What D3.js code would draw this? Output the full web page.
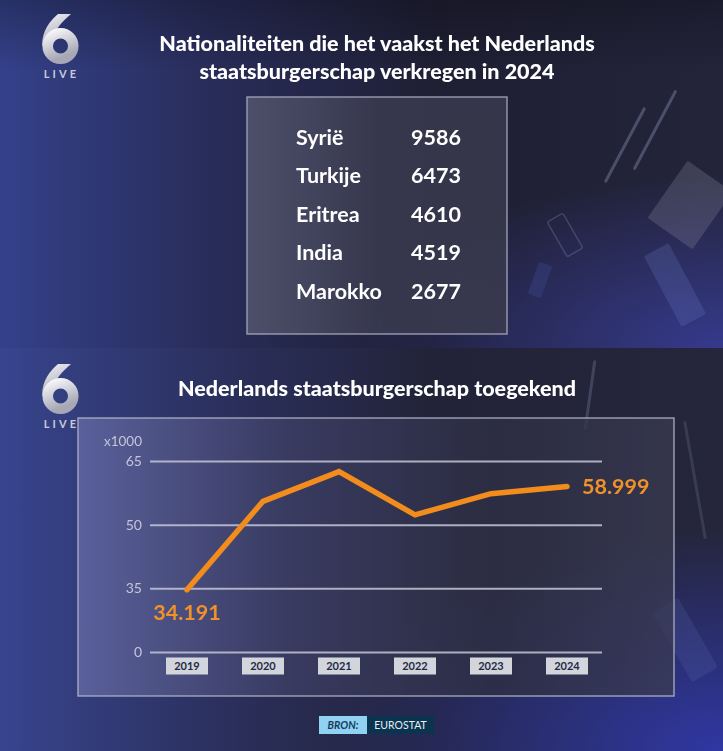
<!DOCTYPE html>
<html><head><meta charset="utf-8">
<script src="https://cdn.jsdelivr.net/npm/d3@7"></script>
<style>
html,body{margin:0;padding:0;background:#1f2035;}
svg{display:block;}
text{font-family:Lato,"Open Sans",sans-serif;}
</style></head>
<body>
<script>
// ---------- DATA ----------
const title1 = ["Nationaliteiten die het vaakst het Nederlands", "staatsburgerschap verkregen in 2024"];
const countries = ["Syrië", "Turkije", "Eritrea", "India", "Marokko"];
const countryValues = [9586, 6473, 4610, 4519, 2677];
const title2 = "Nederlands staatsburgerschap toegekend";
const years = ["2019", "2020", "2021", "2022", "2023", "2024"];
const granted = [34.191, 55.5, 62.5, 52.3, 57.3, 58.999]; // x1000
const yTicks = [0, 35, 50, 65];
const yUnit = "x1000";
const sourceLabel = "BRON:";
const sourceName = "EUROSTAT";

// ---------- SETUP ----------
const W = 723, H = 751;
const svg = d3.select("body").append("svg").attr("width", W).attr("height", H);
const defs = svg.append("defs");

function linGrad(id, stops, x2, y2) {
  const g = defs.append("linearGradient").attr("id", id)
    .attr("x1", 0).attr("y1", 0).attr("x2", x2).attr("y2", y2);
  stops.forEach(s => g.append("stop").attr("offset", s[0]).attr("stop-color", s[1]).attr("stop-opacity", s[2] == null ? 1 : s[2]));
}
function radGrad(id, cx, cy, r, stops) {
  const g = defs.append("radialGradient").attr("id", id).attr("cx", cx).attr("cy", cy).attr("r", r);
  stops.forEach(s => g.append("stop").attr("offset", s[0]).attr("stop-color", s[1]).attr("stop-opacity", s[2]));
}
linGrad("bgTop", [[0, "#34418a"], [0.3, "#282c58"], [0.6, "#1f1f34"], [1, "#23243a"]], 1, 0);
linGrad("bgBot", [[0, "#38458e"], [0.3, "#2b305e"], [0.6, "#222338"], [1, "#25263c"]], 1, 0);
radGrad("glowTop", 1.0, 1.0, 0.5, [[0, "#3a3fa0", 0.8], [1, "#3a3fa0", 0]]);
radGrad("glowBot", 1.0, 1.0, 0.55, [[0, "#3038a8", 0.95], [1, "#3038a8", 0]]);
linGrad("greyTop", [[0, "#000", 0.25], [1, "#000", 0]], 0, 1);
linGrad("panelTop", [[0, "#5a5c72", 0.75], [0.5, "#3c3d52", 0.8], [1, "#3a3a4e", 0.85]], 1, 0);
linGrad("panelBot", [[0, "#6a6fa8", 0.7], [0.35, "#3e4066", 0.75], [0.7, "#2e2f44", 0.8], [1, "#3a3b52", 0.75]], 1, 0);
linGrad("six", [[0, "#f4f4f8"], [1, "#a6a8b6"]], 0.4, 1);

// Backgrounds
const topH = 348;
svg.append("rect").attr("x", 0).attr("y", 0).attr("width", W).attr("height", topH).attr("fill", "url(#bgTop)");
svg.append("rect").attr("x", 0).attr("y", 0).attr("width", W).attr("height", topH).attr("fill", "url(#glowTop)");
svg.append("rect").attr("x", 0).attr("y", 0).attr("width", W).attr("height", 70).attr("fill", "url(#greyTop)");
svg.append("rect").attr("x", 0).attr("y", topH).attr("width", W).attr("height", H - topH).attr("fill", "url(#bgBot)");
svg.append("rect").attr("x", 0).attr("y", topH).attr("width", W).attr("height", H - topH).attr("fill", "url(#glowBot)");

// decorative shards
const deco = svg.append("g").attr("opacity", 0.5);
function shard(cx, cy, w, h, rot, fill, op, stroke) {
  deco.append("rect").attr("x", -w / 2).attr("y", -h / 2).attr("width", w).attr("height", h)
    .attr("rx", 2)
    .attr("fill", fill).attr("fill-opacity", op)
    .attr("stroke", stroke || "none").attr("stroke-opacity", 0.6).attr("stroke-width", 1.5)
    .attr("transform", `translate(${cx},${cy}) rotate(${rot})`);
}
shard(690, 205, 55, 70, 35, "#8a8aa0", 0.55);
shard(675, 285, 28, 80, -28, "#6a78c0", 0.5);
shard(625, 145, 3, 85, 28, "#9aa0c8", 0.7);
shard(655, 130, 3, 90, 28, "#9aa0c8", 0.7);
shard(565, 235, 18, 40, -30, "none", 0, "#8c90c0");
shard(540, 280, 14, 34, 20, "#4a58a8", 0.5);
shard(590, 395, 3, 70, 8, "#9aa0c8", 0.5);
shard(695, 480, 3, 120, -10, "#9aa0c8", 0.35);
shard(685, 640, 30, 80, -30, "#5a66b0", 0.45);

// Logo (the "6" is drawn as a shape, LIVE as text)
function logo(x, y) {
  const g = svg.append("g").attr("transform", `translate(${x},${y})`);
  const six = g.append("g");
  six.append("path")
    .attr("d", "M-18,28 C-18,12 -10,3 -2,-4 L11,-4 C2,4 -6,12 -7,22 Z")
    .attr("fill", "url(#six)");
  six.append("circle").attr("cx", 0.5).attr("cy", 28).attr("r", 12.8)
    .attr("fill", "none").attr("stroke", "url(#six)").attr("stroke-width", 10.5);
  g.append("text").attr("x", 1.5).attr("y", 60).attr("text-anchor", "middle")
    .attr("font-size", 11).attr("font-weight", 700).attr("letter-spacing", 3.2)
    .attr("fill", "#c9cbd8").text("LIVE");
}
logo(60, 18);
logo(60, 368);

// ---------- TOP: table ----------
svg.append("g").selectAll("text").data(title1).join("text")
  .attr("x", 377).attr("y", (d, i) => 51 + i * 28).attr("text-anchor", "middle")
  .attr("font-size", 21.5).attr("font-weight", 900).attr("fill", "#ffffff").text(d => d);

const tp = {x: 247, y: 97, w: 260, h: 237};
svg.append("rect").attr("x", tp.x).attr("y", tp.y).attr("width", tp.w).attr("height", tp.h)
  .attr("fill", "url(#panelTop)").attr("stroke", "#a4a6bc").attr("stroke-opacity", 0.85).attr("stroke-width", 1.5);

const rowY = d3.scalePoint().domain(countries).range([137, 291]);
const rows = svg.append("g").selectAll("g").data(countries).join("g")
  .attr("transform", d => `translate(0,${rowY(d)})`);
rows.append("text").attr("x", 296).attr("dy", "0.36em").attr("font-size", 21.5).attr("font-weight", 700)
  .attr("fill", "#ffffff").text(d => d);
rows.append("text").attr("x", 411).attr("dy", "0.36em").attr("font-size", 21.5).attr("font-weight", 700)
  .attr("fill", "#ffffff").text((d, i) => countryValues[i]);

// ---------- BOTTOM: line chart ----------
svg.append("text").attr("x", 377).attr("y", 396).attr("text-anchor", "middle")
  .attr("font-size", 21.5).attr("font-weight", 900).attr("fill", "#ffffff").text(title2);

const bp = {x: 78, y: 418, w: 596, h: 278};
svg.append("rect").attr("x", bp.x).attr("y", bp.y).attr("width", bp.w).attr("height", bp.h)
  .attr("fill", "url(#panelBot)").attr("stroke", "#b4b6cc").attr("stroke-opacity", 0.8).attr("stroke-width", 1.5);

const plot = {left: 150, right: 602, top: 461, bottom: 652};
const step = (plot.bottom - plot.top) / (yTicks.length - 1);
const y = d3.scaleLinear().domain(yTicks).range(yTicks.map((d, i) => plot.bottom - i * step));
const x = d3.scalePoint().domain(years).range([187, 567]);

const yAxis = svg.append("g").attr("transform", `translate(${plot.left},0)`)
  .call(d3.axisLeft(y).tickValues(yTicks).tickSize(-(plot.right - plot.left)).tickPadding(8).tickFormat(d3.format("d")));
yAxis.select(".domain").remove();
yAxis.selectAll(".tick line").attr("stroke", "#c4c6d6").attr("stroke-width", 2).attr("stroke-opacity", 0.85);
yAxis.selectAll(".tick text").attr("font-size", 14).attr("font-family", "Lato, sans-serif").attr("font-weight", 400)
  .attr("fill", "#c4c6d6");

svg.append("text").attr("x", 142).attr("y", 446).attr("text-anchor", "end")
  .attr("font-size", 13.5).attr("fill", "#c4c6d6").text(yUnit);

// x labels in boxes
const xg = svg.append("g").selectAll("g").data(years).join("g")
  .attr("transform", d => `translate(${x(d)},666)`);
xg.append("rect").attr("x", -21).attr("y", -8.5).attr("width", 42).attr("height", 17)
  .attr("fill", "#d3d5dd");
xg.append("text").attr("text-anchor", "middle").attr("dy", "0.36em")
  .attr("font-size", 11).attr("font-weight", 700).attr("fill", "#1e2a42").text(d => d);

// line
const pts = years.map((d, i) => [x(d), y(granted[i])]);
svg.append("path").attr("d", d3.line()(pts)).attr("fill", "none")
  .attr("stroke", "#f28c1c").attr("stroke-width", 5.5).attr("stroke-linecap", "round").attr("stroke-linejoin", "miter");

const fmtNL = v => { const n = Math.round(v * 1000); return d3.format(",")(n).replace(/,/g, "."); };
svg.append("text").attr("x", x(years[0])).attr("y", y(granted[0]) + 30).attr("text-anchor", "middle")
  .attr("font-size", 21.5).attr("font-weight", 700).attr("fill", "#f0912a").text(fmtNL(granted[0]));
svg.append("text").attr("x", x(years[5]) + 15).attr("y", y(granted[5])).attr("dy", "0.36em")
  .attr("font-size", 21.5).attr("font-weight", 700).attr("fill", "#f0912a").text(fmtNL(granted[5]));

// source badge
const sb = svg.append("g").attr("transform", "translate(319,716)");
sb.append("rect").attr("width", 48).attr("height", 18).attr("fill", "#8fd2f2");
sb.append("rect").attr("x", 48).attr("width", 67).attr("height", 18).attr("fill", "#0b3450");
sb.append("text").attr("x", 24).attr("y", 9).attr("dy", "0.36em").attr("text-anchor", "middle")
  .attr("font-size", 10.5).attr("font-style", "italic").attr("font-weight", 700).attr("fill", "#173a5c").text(sourceLabel);
sb.append("text").attr("x", 81.5).attr("y", 9).attr("dy", "0.36em").attr("text-anchor", "middle")
  .attr("font-size", 10.5).attr("fill", "#e6eef6").text(sourceName);
</script>
</body></html>
